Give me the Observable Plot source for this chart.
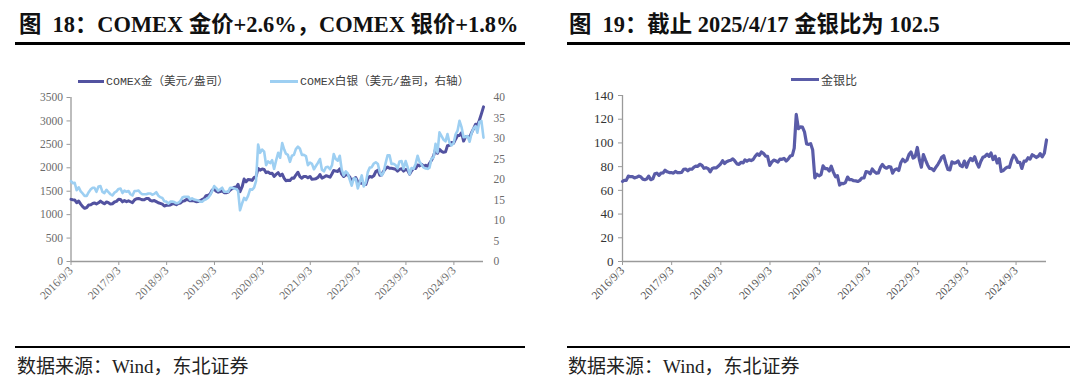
<!DOCTYPE html>
<html>
<head>
<meta charset="utf-8">
<script src="https://cdn.jsdelivr.net/npm/d3@7"></script>
<script src="https://cdn.jsdelivr.net/npm/@observablehq/plot@0.6"></script>
<style>
  html, body { margin: 0; padding: 0; background: #fff; }
  #page { position: relative; width: 1080px; height: 381px; overflow: hidden; background: #fff; }
  .title { position: absolute; font-family: "Liberation Serif", "Noto Sans CJK SC", serif; font-weight: bold; font-size: 22.4px; line-height: 28px; color: #111; white-space: nowrap; }
  .rule { position: absolute; background: #000; }
  .foot { position: absolute; font-family: "Liberation Serif", "Noto Sans CJK SC", serif; font-size: 19px; line-height: 24px; color: #222; white-space: nowrap; }
  .chart { position: absolute; top: 60px; }
  .leg { position: absolute; font-family: "Liberation Mono", "Noto Sans CJK SC", monospace; font-size: 11.6px; line-height: 14px; color: #404040; white-space: nowrap; }
  .legline { position: absolute; height: 3px; }
</style>
</head>
<body>
<div id="page">
  <div class="title" style="left:19px; top:11px;">图&nbsp;&nbsp;18：COMEX 金价+2.6%，COMEX 银价+1.8%</div>
  <div class="rule" style="left:15px; top:42px; width:510px; height:3px;"></div>
  <div class="title" style="left:569px; top:11px;">图&nbsp;&nbsp;19：截止 2025/4/17 金银比为 102.5</div>
  <div class="rule" style="left:567px; top:42px; width:503px; height:3px;"></div>

  <div class="chart" id="c1" style="left:0px;"></div>
  <div class="chart" id="c2" style="left:540px;"></div>

  <div class="legline" style="left:78px; top:80px; width:26px; background:#5252a0;"></div>
  <div class="leg" style="left:106px; top:75px;">COMEX金（美元/盎司）</div>
  <div class="legline" style="left:270px; top:80px; width:28px; background:#9dcff2;"></div>
  <div class="leg" style="left:300px; top:75px;">COMEX白银（美元/盎司，右轴）</div>

  <div class="legline" style="left:791px; top:78px; width:28px; background:#5a5ca8;"></div>
  <div class="leg" style="left:821px; top:73px; font-size:12px; font-family:'Noto Sans CJK SC', sans-serif;">金银比</div>

  <div class="rule" style="left:15px; top:346px; width:510px; height:1.5px;"></div>
  <div class="foot" style="left:17px; top:355px;">数据来源：Wind，东北证券</div>
  <div class="rule" style="left:567px; top:346px; width:503px; height:1.5px;"></div>
  <div class="foot" style="left:568px; top:355px;">数据来源：Wind，东北证券</div>
</div>
<script>
// ---- Data (semi-monthly readings, Sep 2016 – Apr 17 2025) ----
const startDate = "2016-09-03";
const endDate = "2025-04-17";

// COMEX gold, USD/oz (two readings per month)
const gold = [
  1326,1318,1313,1255,1290,1226,1172,1135,
  1152,1205,1212,1238,1250,1228,1253,1290,1257,1232,1270,1255,1225,1233,1270,1284,1330,1322,1273,1300,1277,1294,1275,1256,
  1315,1340,1345,1330,1318,1317,1345,1346,1305,1290,1300,1278,1254,1240,1224,1184,1200,1202,1207,1230,1232,1213,1238,1246,
  1284,1294,1322,1315,1294,1302,1295,1277,1281,1297,1325,1342,1405,1413,1440,1525,1545,1500,1480,1494,1510,1468,1466,1480,
  1525,1555,1585,1585,1645,1490,1595,1760,1700,1750,1745,1730,1790,1815,1985,1950,1975,1965,1895,1912,1880,1885,1817,1860,
  1895,1830,1865,1775,1724,1732,1730,1780,1775,1845,1905,1810,1777,1815,1812,1785,1815,1755,1760,1768,1795,1855,1780,1800,
  1829,1818,1800,1872,1944,1930,1923,1978,1865,1815,1850,1850,1804,1710,1771,1790,1700,1675,1670,1650,1645,1775,1815,1800,
  1830,1920,1950,1840,1845,1925,1985,2015,1990,1990,1980,1970,1930,1965,1980,1930,1965,1945,1865,1935,1990,1985,2060,2040,
  2075,2030,2055,2024,2095,2160,2255,2400,2310,2395,2350,2330,2340,2470,2480,2540,2525,2610,2690,2690,2750,2570,2660,2670,
  2645,2750,2840,2930,2905,3010,3150,3300
];

// COMEX silver, USD/oz (right axis)
const silver = [
  19.6,19.1,19.2,17.4,18.1,17.1,16.6,16.0,
  16.0,16.9,17.6,18.0,18.0,17.0,18.3,18.4,17.0,16.7,17.5,16.9,16.4,16.1,16.8,17.1,17.7,17.8,16.7,17.3,17.0,17.2,16.4,16.1,
  17.2,17.2,17.3,16.7,16.4,16.4,16.4,16.6,16.6,16.3,16.5,16.9,16.1,15.7,15.5,14.7,14.6,14.1,14.6,14.6,14.5,14.2,14.3,14.7,
  15.6,15.8,15.8,15.8,15.1,15.4,15.1,15.0,14.9,14.6,14.6,15.0,15.2,15.5,16.2,17.2,18.4,17.9,17.3,17.6,18.0,17.0,17.0,17.0,
  18.0,18.0,17.8,17.7,17.2,12.5,14.2,15.5,15.0,16.0,17.6,17.5,18.0,19.6,28.5,26.5,27.3,26.8,23.5,24.4,24.0,24.7,22.6,24.6,
  26.5,25.3,28.9,27.3,26.3,26.0,24.3,25.8,26.0,27.4,28.0,27.5,26.0,26.0,25.7,23.5,24.1,23.8,22.5,23.3,24.1,25.0,22.4,22.0,
  23.0,23.1,22.5,23.5,26.2,25.0,24.6,25.8,22.4,21.0,22.0,21.5,20.0,18.5,20.3,20.2,17.8,19.5,21.0,18.3,19.3,21.8,22.9,23.0,
  23.9,24.2,23.8,21.7,21.0,21.7,24.0,25.9,25.9,23.8,23.8,23.5,22.7,24.4,24.5,22.6,24.5,23.0,21.3,22.8,22.6,23.8,25.8,24.3,
  23.6,22.9,22.7,22.6,22.9,25.1,25.4,28.7,26.6,31.5,30.6,29.7,29.3,31.1,28.9,28.3,28.9,31.0,31.9,34.3,32.7,30.3,30.4,30.6,
  29.2,31.3,32.5,33.0,31.4,34.0,34.3,30.2
];

// Gold/silver ratio
const ratio = [
  67.5,68.5,68.4,72.0,71.5,71.6,70.5,71.0,
  72.0,71.5,69.5,69.0,69.5,72.0,69.0,69.7,74.0,74.5,72.6,74.5,74.7,77.0,75.6,75.0,75.0,74.5,76.0,75.0,75.0,75.2,77.7,78.0,
  76.5,78.0,77.8,79.6,80.4,80.3,82.0,81.1,78.6,79.1,78.3,75.6,78.4,79.0,79.0,80.5,82.2,85.0,82.7,84.2,85.0,85.4,86.6,84.8,
  82.3,81.9,83.7,83.2,85.7,84.5,85.8,85.1,86.0,88.8,90.8,89.5,92.4,91.2,88.9,88.7,81.0,83.8,85.5,84.9,83.9,86.3,86.2,87.0,
  84.7,86.4,89.0,89.5,95.6,124.0,112.0,113.5,113.3,109.4,99.2,98.8,99.4,94.0,70.5,73.6,72.3,73.3,80.6,78.4,78.3,76.3,80.4,75.6,
  71.5,72.3,64.5,66.0,65.6,66.6,71.2,69.0,69.0,68.1,68.0,67.5,68.4,70.4,70.5,75.8,75.5,74.0,78.0,75.9,74.4,74.7,79.3,81.8,
  79.5,78.7,80.0,79.7,74.5,77.2,78.2,76.7,83.3,86.2,84.1,85.5,90.2,92.4,87.2,88.4,96.2,86.0,79.5,90.2,85.5,81.4,78.6,78.3,
  76.6,79.3,82.0,84.8,87.9,89.2,82.7,77.6,77.2,84.0,83.0,83.4,84.8,81.1,80.0,84.7,79.4,84.1,86.9,85.1,88.3,83.2,79.6,84.4,
  87.9,88.6,90.5,88.7,91.5,86.0,88.8,83.1,86.8,76.0,76.8,78.5,79.7,79.4,85.8,89.7,87.4,83.5,83.7,78.5,84.6,84.7,87.5,86.4,
  90.0,89.0,87.7,88.8,91.0,88.3,91.3,102.5
];

const xTickLabels = ["2016/9/3","2017/9/3","2018/9/3","2019/9/3","2020/9/3","2021/9/3","2022/9/3","2023/9/3","2024/9/3"];
const goldTicks = [0,500,1000,1500,2000,2500,3000,3500];
const silverTicks = [0,5,10,15,20,25,30,35,40];
const ratioTicks = [0,20,40,60,80,100,120,140];

// ---- Build observation dates: 1st and 16th of each month ----
const parse = d3.utcParse("%Y-%m-%d");
const parseSlash = d3.utcParse("%Y/%m/%d");
const d0 = parse(startDate), d1 = parse(endDate);
const months = d3.utcMonth.range(d3.utcMonth.floor(d0), d3.utcMonth.offset(d3.utcMonth.floor(d1), 1));
const dates = [];
months.forEach(m => { dates.push(m); dates.push(d3.utcDay.offset(m, 15)); });
dates[0] = d0;
dates[dates.length - 1] = d1;

const goldData = dates.map((d, i) => ({date: d, v: gold[i]}));
const silverData = dates.map((d, i) => ({date: d, v: silver[i]}));
const ratioData = dates.map((d, i) => ({date: d, v: ratio[i]}));
const xTicks = xTickLabels.map(s => parseSlash(s));
const fmtDate = d => `${d.getUTCFullYear()}/${d.getUTCMonth() + 1}/${d.getUTCDate()}`;
const k = 3500 / 40; // silver -> gold scale

const axisGray = "#9a9a9a";

const left = Plot.plot({
  width: 540, height: 256,
  marginLeft: 70.5, marginRight: 57, marginTop: 37, marginBottom: 55,
  style: {fontFamily: '"Liberation Serif", serif', fontSize: "11.5px", background: "transparent", overflow: "visible"},
  x: {type: "utc", domain: [d0, d1]},
  y: {domain: [0, 3500]},
  marks: [
    Plot.axisY({ticks: goldTicks, tickFormat: d3.format("d"), tickSize: 4, tickPadding: 4, stroke: axisGray, fill: "#6b6b6b", label: null}),
    Plot.axisY({anchor: "right", ticks: silverTicks.map(t => t * k), tickFormat: t => d3.format("d")(Math.round(t / k)), tickSize: 0, tickPadding: 10, fill: "#6b6b6b", label: null}),
    Plot.axisX({ticks: xTicks, tickFormat: fmtDate, tickRotate: -45, tickSize: 4, tickPadding: 3, stroke: axisGray, fill: "#6b6b6b", label: null}),
    Plot.ruleX([d0], {stroke: axisGray, strokeWidth: 1.3}),
    Plot.ruleY([0], {stroke: axisGray, strokeWidth: 1.3}),
    Plot.lineY(goldData, {x: "date", y: "v", stroke: "#5252a0", strokeWidth: 3}),
    Plot.lineY(silverData, {x: "date", y: d => d.v * k, stroke: "#9dcff2", strokeWidth: 2.6})
  ]
});
document.getElementById("c1").appendChild(left);

const right = Plot.plot({
  width: 540, height: 256,
  marginLeft: 82, marginRight: 34, marginTop: 35, marginBottom: 55,
  style: {fontFamily: '"Liberation Serif", serif', fontSize: "11.5px", background: "transparent", overflow: "visible"},
  x: {type: "utc", domain: [d0, d1]},
  y: {domain: [0, 140]},
  marks: [
    Plot.axisY({ticks: ratioTicks, tickFormat: d3.format("d"), tickSize: 4, tickPadding: 5, stroke: axisGray, fill: "#333", fontSize: 13, label: null}),
    Plot.axisX({ticks: xTicks, tickFormat: fmtDate, tickRotate: -45, tickSize: 4, tickPadding: 3, stroke: axisGray, fill: "#555", label: null}),
    Plot.ruleX([d0], {stroke: axisGray, strokeWidth: 1.3}),
    Plot.ruleY([0], {stroke: axisGray, strokeWidth: 1.3}),
    Plot.lineY(ratioData, {x: "date", y: "v", stroke: "#5a5ca8", strokeWidth: 3.2})
  ]
});
document.getElementById("c2").appendChild(right);
</script>
</body>
</html>
